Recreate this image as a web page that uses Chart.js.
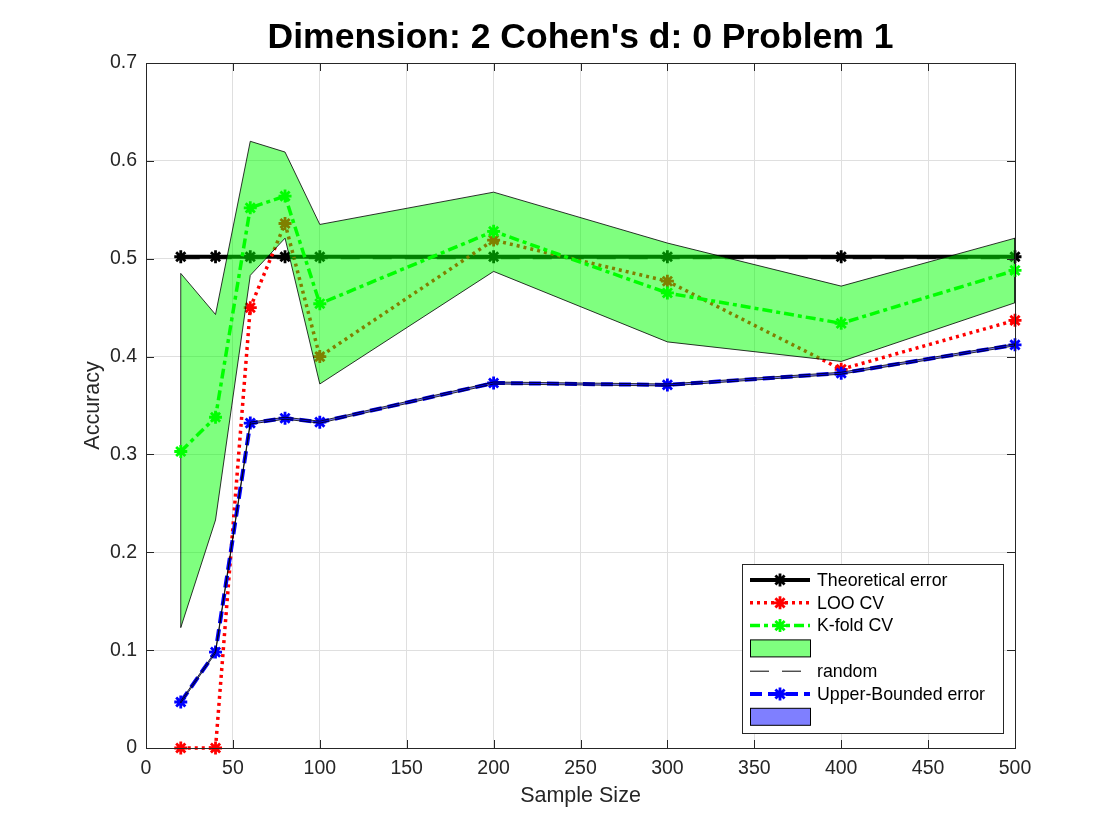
<!DOCTYPE html>
<html>
<head>
<meta charset="utf-8">
<script src="https://cdn.jsdelivr.net/npm/chart.js@4.4.1/dist/chart.umd.min.js"></script>
<style>
  html, body { margin: 0; padding: 0; background: #ffffff; }
  #wrap { width: 1120px; height: 840px; }
</style>
</head>
<body>
<div id="wrap"><canvas id="chart0" width="1120" height="840"></canvas></div>
<script>
// values
const sampleSizes = [20, 40, 60, 80, 100, 200, 300, 400, 500];
const theoretical = [0.502, 0.502, 0.502, 0.502, 0.502, 0.502, 0.502, 0.502, 0.502];
const looCV = [0.000, 0.000, 0.450, 0.536, 0.400, 0.519, 0.477, 0.387, 0.437];
const kfoldCV = [0.303, 0.338, 0.552, 0.564, 0.454, 0.528, 0.465, 0.434, 0.488];
const kfoldUpper = [0.485, 0.443, 0.620, 0.609, 0.535, 0.568, 0.516, 0.472, 0.521];
const kfoldLower = [0.123, 0.233, 0.483, 0.521, 0.372, 0.487, 0.415, 0.395, 0.455];
const randomLevel = [0.500, 0.500, 0.500, 0.500, 0.500, 0.500, 0.500, 0.500, 0.500];
const upperBounded = [0.047, 0.098, 0.332, 0.337, 0.333, 0.373, 0.371, 0.383, 0.412];
const ubUpper = [0.048, 0.099, 0.333, 0.338, 0.334, 0.374, 0.372, 0.384, 0.413];
const ubLower = [0.046, 0.097, 0.331, 0.336, 0.332, 0.372, 0.370, 0.382, 0.411];
const xTicks = [0, 50, 100, 150, 200, 250, 300, 350, 400, 450, 500];
const yTicks = [0, 0.1, 0.2, 0.3, 0.4, 0.5, 0.6, 0.7];

const FONT = "'Liberation Sans', Arial, Helvetica, sans-serif";
const AXIS_COLOR = '#262626';

function pts(ys) {
    return sampleSizes.map((x, i) => ({ x: x, y: ys[i] }));
}

// closed polygon: upper edge left->right, lower edge right->left
function band(up, low) {
    const p = pts(up);
    const q = pts(low).reverse();
    return p.concat(q, [p[0]]);
}

function lineSet(label, ys, color, width, dash, order) {
    return {
        label: label,
        data: pts(ys),
        borderColor: color,
        backgroundColor: color,
        borderWidth: width,
        borderDash: dash,
        borderCapStyle: 'butt',
        pointStyle: 'star',
        pointRadius: 6.5,
        pointBorderWidth: 2.8,
        pointBorderColor: color,
        pointBackgroundColor: color,
        fill: false,
        clip: false,
        order: order,
        legendKind: 'line',
    };
}

function bandSet(label, up, low, fillColor, order) {
    return {
        label: label,
        data: band(up, low),
        borderColor: '#000000',
        borderWidth: 0.8,
        backgroundColor: fillColor,
        pointRadius: 0,
        fill: 'shape',
        order: order,
        legendKind: 'patch',
    };
}

const datasets = [
    lineSet('Theoretical error', theoretical, '#000000', 4, [], 7),
    lineSet('LOO CV', looCV, '#ff0000', 3.5, [3, 4], 6),
    lineSet('K-fold CV', kfoldCV, '#00ff00', 3.5, [10, 4, 4, 4], 3),
    bandSet('', kfoldUpper, kfoldLower, 'rgba(0,255,0,0.5)', 4),
    Object.assign(lineSet('random', randomLevel, '#000000', 1, [19, 13], 5), { pointRadius: 0, legendKind: 'plain' }),
    lineSet('Upper-Bounded error', upperBounded, '#0000ff', 4, [12, 6], 2),
    bandSet('', ubUpper, ubLower, 'rgba(0,0,255,0.5)', 1),
];

function drawStar(ctx, x, y, r, color, w) {
    ctx.save();
    ctx.strokeStyle = color;
    ctx.lineWidth = w;
    ctx.setLineDash([]);
    ctx.beginPath();
    ctx.moveTo(x - r, y); ctx.lineTo(x + r, y);
    ctx.moveTo(x, y - r); ctx.lineTo(x, y + r);
    const d = r * Math.SQRT1_2;
    ctx.moveTo(x - d, y - d); ctx.lineTo(x + d, y + d);
    ctx.moveTo(x - d, y + d); ctx.lineTo(x + d, y - d);
    ctx.stroke();
    ctx.restore();
}

// matlab style box with inward ticks
const axesBox = {
    id: 'axesBox',
    afterDatasetsDraw(chart) {
        const ctx = chart.ctx;
        const a = chart.chartArea;
        const xs = chart.scales.x, ys = chart.scales.y;
        const len = 8;
        ctx.save();
        ctx.strokeStyle = AXIS_COLOR;
        ctx.lineWidth = 1;
        ctx.setLineDash([]);
        ctx.beginPath();
        xTicks.forEach(v => {
            const px = Math.round(xs.getPixelForValue(v)) + 0.5;
            ctx.moveTo(px, a.bottom); ctx.lineTo(px, a.bottom - len);
            ctx.moveTo(px, a.top); ctx.lineTo(px, a.top + len);
        });
        yTicks.forEach(v => {
            const py = Math.round(ys.getPixelForValue(v)) + 0.5;
            ctx.moveTo(a.left, py); ctx.lineTo(a.left + len, py);
            ctx.moveTo(a.right, py); ctx.lineTo(a.right - len, py);
        });
        ctx.stroke();
        ctx.strokeRect(Math.round(a.left) + 0.5, Math.round(a.top) + 0.5,
            Math.round(a.right - a.left), Math.round(a.bottom - a.top));
        ctx.restore();
    }
};

// legend box inside the axes, bottom right
const boxLegend = {
    id: 'boxLegend',
    afterDraw(chart) {
        const ctx = chart.ctx;
        const left = 742, top = 564, w = 261, h = 169;
        const rowH = 22.8, firstY = 580;
        ctx.save();
        ctx.fillStyle = '#ffffff';
        ctx.fillRect(left, top, w, h);
        ctx.strokeStyle = AXIS_COLOR;
        ctx.lineWidth = 1;
        ctx.strokeRect(left + 0.5, top + 0.5, w, h);
        ctx.font = '17.8px ' + FONT;
        ctx.textBaseline = 'middle';
        ctx.fillStyle = '#000000';
        chart.data.datasets.forEach((ds, i) => {
            const y = firstY + i * rowH;
            const x0 = 750, x1 = 810;
            if (ds.legendKind === 'patch') {
                ctx.fillStyle = ds.backgroundColor;
                ctx.fillRect(x0, y - 8.5, x1 - x0, 17);
                ctx.strokeStyle = '#000000';
                ctx.lineWidth = 1;
                ctx.setLineDash([]);
                ctx.strokeRect(x0 + 0.5, y - 8.5, x1 - x0, 17);
            } else {
                ctx.strokeStyle = ds.borderColor;
                ctx.lineWidth = ds.borderWidth;
                ctx.lineCap = 'butt';
                ctx.setLineDash(ds.borderDash || []);
                ctx.beginPath();
                ctx.moveTo(x0, y); ctx.lineTo(x1, y);
                ctx.stroke();
                if (ds.legendKind === 'line') drawStar(ctx, 780, y, 6.5, ds.borderColor, 2.8);
            }
            ctx.fillStyle = '#000000';
            ctx.fillText(ds.label, 817, y + 1);
        });
        ctx.restore();
    }
};

const canvas0 = document.getElementById('chart0');
const ctx0 = canvas0.getContext('2d');

const chart0 = new Chart(ctx0, {
    type: 'line',
    data: { datasets: datasets },
    options: {
        responsive: false,
        animation: false,
        events: [],
        layout: { padding: { left: 0, right: 105, top: 0, bottom: 0 } },
        plugins: {
            legend: { display: false },
            tooltip: { enabled: false },
            title: {
                display: true,
                text: "Dimension: 2 Cohen's d: 0 Problem 1",
                fullSize: false,
                color: '#000000',
                font: { family: FONT, size: 35.5, weight: 'bold', lineHeight: 1.2 },
                padding: { top: 17, bottom: 3.4 },
            },
        },
        scales: {
            x: {
                type: 'linear',
                min: 0,
                max: 500,
                afterFit(scale) { scale.height = 92; },
                afterBuildTicks(scale) { scale.ticks = xTicks.map(v => ({ value: v })); },
                ticks: {
                    color: AXIS_COLOR,
                    padding: 9,
                    maxRotation: 0,
                    font: { family: FONT, size: 19.5 },
                },
                grid: { color: '#dfdfdf', drawTicks: false },
                border: { display: false },
                title: {
                    display: true,
                    text: 'Sample Size',
                    color: AXIS_COLOR,
                    font: { family: FONT, size: 21.5, lineHeight: 1.2 },
                    padding: { top: 0, bottom: 31 },
                },
            },
            y: {
                type: 'linear',
                min: 0,
                max: 0.7,
                afterFit(scale) { scale.width = 146; },
                afterBuildTicks(scale) { scale.ticks = yTicks.map(v => ({ value: v })); },
                ticks: {
                    color: AXIS_COLOR,
                    padding: 9,
                    font: { family: FONT, size: 19.5 },
                    callback: v => String(Number(v.toFixed(1))),
                },
                grid: { color: '#dfdfdf', drawTicks: false },
                border: { display: false },
                title: {
                    display: true,
                    text: 'Accuracy',
                    color: AXIS_COLOR,
                    font: { family: FONT, size: 21.5, lineHeight: 1.2 },
                    padding: { top: 80, bottom: 0 },
                },
            },
        },
    },
    plugins: [axesBox, boxLegend],
});
</script>
</body>
</html>
